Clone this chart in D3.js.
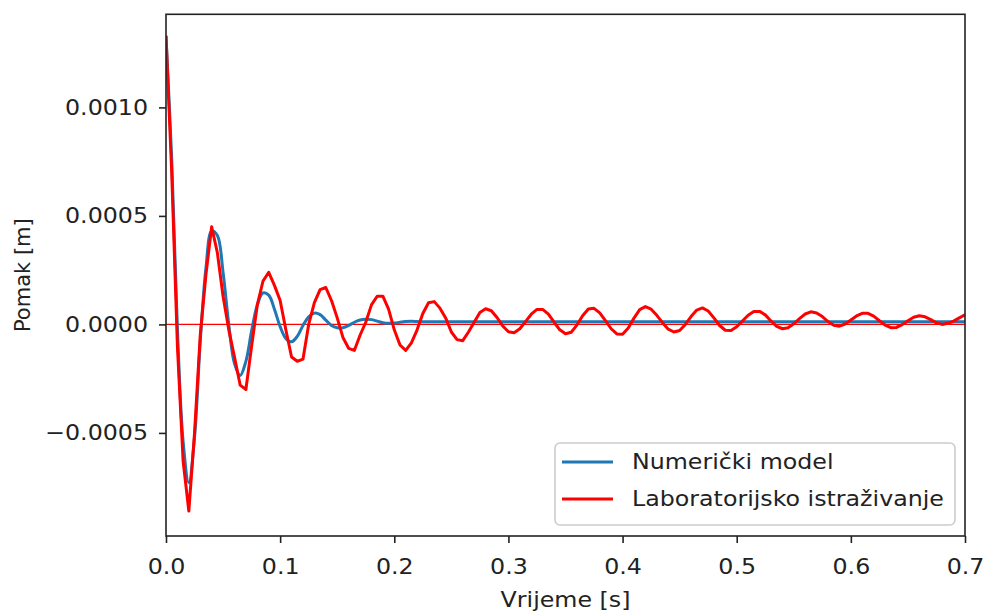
<!DOCTYPE html>
<html>
<head>
<meta charset="utf-8">
<script src="https://cdn.jsdelivr.net/npm/d3@7/dist/d3.min.js"></script>
<style>
  body { margin: 0; background: #fff; }
  text { font-family: "DejaVu Sans", sans-serif; fill: #222; }
</style>
</head>
<body>
<svg id="chart" width="985" height="612"></svg>
<script>
// sample step of both series [s]
const dt = 0.005;

// Numericki model, displacement in 1e-4 m, one value every dt
const numValues = [
  13.3, 7.6, -0.2, -5.4, -7.3, -5.2, -0.8, 2.6, 4.3, 4.1,
  2.4, 0.0, -1.8, -2.35, -1.7, -0.3, 0.9, 1.45, 1.35, 0.7,
  -0.1, -0.65, -0.8, -0.55, -0.05, 0.35, 0.52, 0.45, 0.2, -0.05,
  -0.15, -0.15, -0.05, 0.1, 0.2, 0.24, 0.22, 0.15, 0.08, 0.05,
  0.06, 0.1, 0.13, 0.14, 0.13, 0.12, 0.12, 0.12, 0.12, 0.12,
  0.12, 0.12, 0.12, 0.12, 0.12, 0.12, 0.12, 0.12, 0.12, 0.12,
  0.12, 0.12, 0.12, 0.12, 0.12, 0.12, 0.12, 0.12, 0.12, 0.12,
  0.12, 0.12, 0.12, 0.12, 0.12, 0.12, 0.12, 0.12, 0.12, 0.12,
  0.12, 0.12, 0.12, 0.12, 0.12, 0.12, 0.12, 0.12, 0.12, 0.12,
  0.12, 0.12, 0.12, 0.12, 0.12, 0.12, 0.12, 0.12, 0.12, 0.12,
  0.12, 0.12, 0.12, 0.12, 0.12, 0.12, 0.12, 0.12, 0.12, 0.12,
  0.12, 0.12, 0.12, 0.12, 0.12, 0.12, 0.12, 0.12, 0.12, 0.12,
  0.12, 0.12, 0.12, 0.12, 0.12, 0.12, 0.12, 0.12, 0.12, 0.12,
  0.12, 0.12, 0.12, 0.12, 0.12, 0.12, 0.12, 0.12, 0.12, 0.12,
  0.12
];

// Laboratorijsko istrazivanje, displacement in 1e-4 m, one value every dt
const labValues = [
  13.3, 7.0, -1.0, -6.3, -8.6, -5.0, -0.5, 2.3, 4.5, 3.3,
  1.3, -0.25, -1.5, -2.8, -3.0, -1.0, 0.9, 2.0, 2.4, 1.8,
  1.1, -0.25, -1.5, -1.7, -1.6, 0.0, 1.0, 1.6, 1.7, 1.1,
  0.3, -0.6, -1.1, -1.2, -0.5, 0.1, 0.9, 1.3, 1.3, 0.7,
  -0.25, -0.95, -1.2, -0.85, -0.25, 0.5, 1.0, 1.05, 0.75, 0.3,
  -0.35, -0.7, -0.75, -0.35, 0.1, 0.55, 0.72, 0.63, 0.32, -0.07,
  -0.34, -0.38, -0.2, 0.13, 0.47, 0.69, 0.69, 0.47, 0.1, -0.25,
  -0.43, -0.36, -0.03, 0.4, 0.71, 0.74, 0.53, 0.17, -0.2, -0.44,
  -0.45, -0.16, 0.29, 0.68, 0.82, 0.7, 0.42, 0.08, -0.22, -0.35,
  -0.28, 0.0, 0.36, 0.66, 0.76, 0.62, 0.3, -0.05, -0.27, -0.28,
  -0.11, 0.16, 0.42, 0.59, 0.6, 0.44, 0.16, -0.09, -0.2, -0.15,
  0.03, 0.27, 0.48, 0.58, 0.53, 0.36, 0.13, -0.04, -0.08, 0.02,
  0.2, 0.39, 0.51, 0.51, 0.38, 0.17, -0.03, -0.15, -0.14, -0.01,
  0.17, 0.33, 0.4, 0.35, 0.22, 0.07, 0.0, 0.05, 0.15, 0.3,
  0.44
];

const xTicks = [0, 0.1, 0.2, 0.3, 0.4, 0.5, 0.6, 0.7];
const yTicks = [-0.0005, 0, 0.0005, 0.001];
const seriesNames = ["Numerički model", "Laboratorijsko istraživanje"];
const seriesColors = ["#1f77b4", "#ff0000"];

const toPoints = (vals) => vals.map((v, i) => [i * dt, v * 1e-4]);
const numData = toPoints(numValues);
const labData = toPoints(labValues);

// Plot area
const margin = { left: 166, right: 965, top: 14.3, bottom: 536 };
// the picture is a bit wider than tall, text too
const stretch = 1.13;
const fontSize = 21;

const svg = d3.select("#chart");

var x = d3.scaleLinear().domain([0, 0.7]).range([margin.left, margin.right]);
var y = d3.scaleLinear().domain([-0.000975, 0.001429]).range([margin.bottom, margin.top]);

svg.append("defs").append("clipPath").attr("id", "plot-clip")
  .append("rect")
  .attr("x", margin.left).attr("y", margin.top)
  .attr("width", margin.right - margin.left)
  .attr("height", margin.bottom - margin.top);

const plot = svg.append("g").attr("clip-path", "url(#plot-clip)");

// zero line
plot.append("line")
  .attr("x1", x(0)).attr("x2", x(0.7))
  .attr("y1", y(0)).attr("y2", y(0))
  .attr("stroke", "#ff0000")
  .attr("stroke-width", 1.2);

var line = d3.line().x((d) => x(d[0])).y((d) => y(d[1]));

plot.append("path")
  .datum(numData)
  .attr("fill", "none")
  .attr("stroke", seriesColors[0])
  .attr("stroke-width", 3)
  .attr("stroke-linejoin", "round")
  .attr("d", line.curve(d3.curveCatmullRom));

plot.append("path")
  .datum(labData)
  .attr("fill", "none")
  .attr("stroke", seriesColors[1])
  .attr("stroke-width", 3)
  .attr("stroke-linejoin", "round")
  .attr("d", line.curve(d3.curveLinear));

// Axes
const xAxis = svg.append("g")
  .attr("transform", "translate(0," + margin.bottom + ")")
  .call(d3.axisBottom(x).tickValues(xTicks).tickFormat(d3.format(".1f"))
    .tickSize(7).tickSizeOuter(0).tickPadding(16));

const yAxis = svg.append("g")
  .attr("transform", "translate(" + margin.left + ",0)")
  .call(d3.axisLeft(y).tickValues(yTicks).tickFormat(d3.format(".4f"))
    .tickSize(7).tickSizeOuter(0).tickPadding(11));

[xAxis, yAxis].forEach((g) => {
  g.select(".domain").remove();
  g.selectAll(".tick line").attr("stroke", "#222").attr("stroke-width", 1.6);
  g.selectAll(".tick text")
    .attr("font-size", fontSize)
    .attr("fill", "#222")
    .style("font-family", "'DejaVu Sans', sans-serif")
    .each(function () {
      const t = d3.select(this);
      const tx = +t.attr("x") || 0;
      t.attr("x", 0).attr("transform", "translate(" + tx + ",0) scale(" + stretch + ",1)");
    });
});

// Frame
svg.append("rect")
  .attr("x", margin.left).attr("y", margin.top)
  .attr("width", margin.right - margin.left)
  .attr("height", margin.bottom - margin.top)
  .attr("fill", "none")
  .attr("stroke", "#222")
  .attr("stroke-width", 1.6);

// Axis labels
svg.append("text")
  .attr("transform", "translate(" + (margin.left + margin.right) / 2 + ",607) scale(" + stretch + ",1)")
  .attr("text-anchor", "middle")
  .attr("font-size", fontSize)
  .text("Vrijeme [s]");

svg.append("text")
  .attr("transform", "translate(30," + (margin.top + margin.bottom) / 2 + ") rotate(-90)")
  .attr("text-anchor", "middle")
  .attr("font-size", fontSize)
  .text("Pomak [m]");

// Legend
const legend = svg.append("g").attr("transform", "translate(555,443)");

legend.append("rect")
  .attr("width", 400).attr("height", 82)
  .attr("rx", 5)
  .attr("fill", "#fff").attr("fill-opacity", 0.8)
  .attr("stroke", "#ccc").attr("stroke-width", 1.6);

seriesNames.forEach((name, i) => {
  const ly = 19 + i * 37;
  legend.append("line")
    .attr("x1", 7).attr("x2", 58)
    .attr("y1", ly).attr("y2", ly)
    .attr("stroke", seriesColors[i])
    .attr("stroke-width", 3);
  legend.append("text")
    .attr("transform", "translate(77," + ly + ") scale(" + stretch + ",1)")
    .attr("dy", "0.35em")
    .attr("font-size", fontSize)
    .text(name);
});
</script>
</body>
</html>
